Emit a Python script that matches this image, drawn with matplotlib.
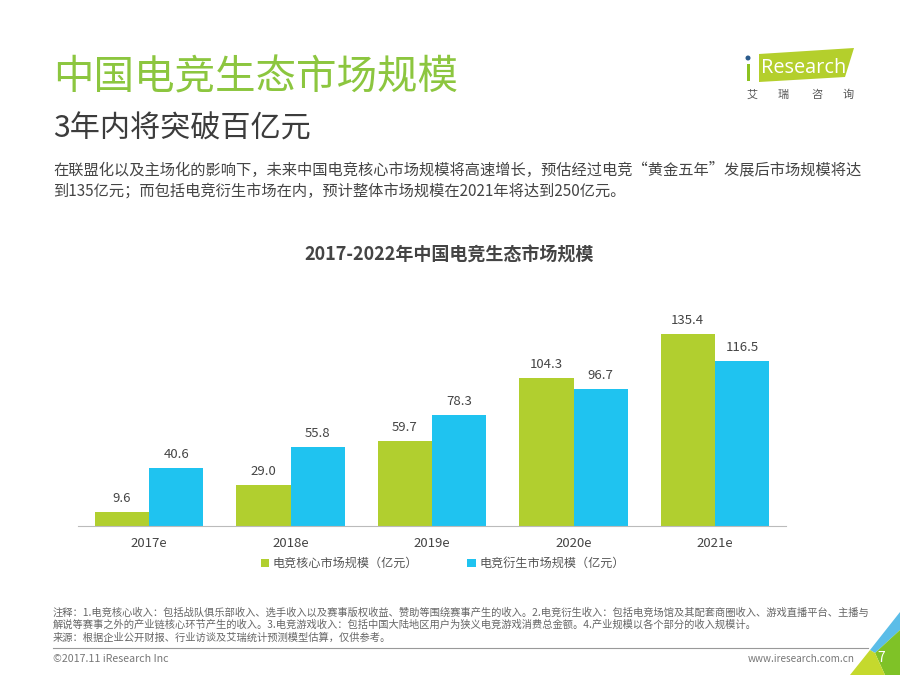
import numpy as np
import matplotlib
matplotlib.use('Agg')
import matplotlib.pyplot as plt
from matplotlib.patches import Polygon, Circle, Rectangle

plt.rcParams['font.family'] = ['Noto Sans CJK SC', 'DejaVu Sans']

years = ['2017e', '2018e', '2019e', '2020e', '2021e']
core = [9.6, 29.0, 59.7, 104.3, 135.4]
derived = [40.6, 55.8, 78.3, 96.7, 116.5]
core_name = '电竞核心市场规模（亿元）'
derived_name = '电竞衍生市场规模（亿元）'

title = '中国电竞生态市场规模'
subtitle = '3年内将突破百亿元'
intro = ['在联盟化以及主场化的影响下，未来中国电竞核心市场规模将高速增长，预估经过电竞“黄金五年”发展后市场规模将达',
         '到135亿元；而包括电竞衍生市场在内，预计整体市场规模在2021年将达到250亿元。']
chart_title = '2017-2022年中国电竞生态市场规模'
notes = ['注释：1.电竞核心收入：包括战队俱乐部收入、选手收入以及赛事版权收益、赞助等围绕赛事产生的收入。2.电竞衍生收入：包括电竞场馆及其配套商圈收入、游戏直播平台、主播与',
         '解说等赛事之外的产业链核心环节产生的收入。3.电竞游戏收入：包括中国大陆地区用户为狭义电竞游戏消费总金额。4.产业规模以各个部分的收入规模计。',
         '来源：根据企业公开财报、行业访谈及艾瑞统计预测模型估算，仅供参考。']

GREEN = '#b1cf2f'
BLUE = '#1fc3f0'
W, H = 900, 675

fig = plt.figure(figsize=(9, 6.75), dpi=100, facecolor='white')

# page overlay in pixel coordinates
page = fig.add_axes([0, 0, 1, 1])
page.set_xlim(0, W)
page.set_ylim(H, 0)
page.axis('off')

page.text(53, 78, title, fontsize=29.2, color='#8cc63f', va='center', ha='left')
page.text(53, 129, subtitle, fontsize=21.7, color='#3c3c3c', va='center', ha='left')
page.text(53, 170, intro[0], fontsize=10.98, color='#444444', va='center')
page.text(53, 191, intro[1], fontsize=10.98, color='#444444', va='center')
page.text(449, 255, chart_title, fontsize=13, color='#444444', weight='bold', ha='center', va='center')

# logo
page.add_patch(Polygon([[759, 54], [854, 48], [845, 77], [759, 82]], color='#b4cf2c', lw=0))
page.add_patch(Rectangle((746.5, 64), 3.5, 17, color='#8cc220', lw=0))
page.add_patch(Circle((748, 58), 2.5, color='#2b5b8c', lw=0))
page.text(761, 68, 'Research', fontsize=14.3, color='white', va='center', family='Open Sans')
for x, ch in zip([752, 783, 817, 848], '艾瑞咨询'):
    page.text(x, 95, ch, fontsize=8, color='#555555', ha='center', va='center')

# footnotes
for y, line in zip([613, 625, 638], notes):
    page.text(53, y, line, fontsize=7.4, color='#666666', va='center')
page.plot([53, 868], [648, 648], color='#999999', lw=0.8)
page.text(53, 659, '©2017.11 iResearch Inc', fontsize=7.7, color='#777777', va='center')
page.text(855, 659, 'www.iresearch.com.cn', fontsize=7.2, color='#777777', va='center', ha='right')

# corner decoration
page.add_patch(Polygon([[900, 612], [870, 650], [875, 653], [900, 630]], color='#5bbde8', lw=0))
page.add_patch(Polygon([[875, 653], [900, 630], [900, 675], [885, 675]], color='#7fc227', lw=0))
page.add_patch(Polygon([[850, 675], [870, 650], [875, 653], [885, 675]], color='#c5d92d', lw=0))
page.text(881, 658, '7', fontsize=10, color='white', ha='center', va='center')

# bar chart, axes placed so category spacing and baseline line up with the slide
ax = fig.add_axes([78.25 / W, 1 - 526 / H, (785.75 - 78.25) / W, 226 / H])
ax.patch.set_alpha(0)
x = np.arange(len(years))
w = 0.385
b1 = ax.bar(x - w / 2, core, w, color=GREEN, label=core_name)
b2 = ax.bar(x + w / 2, derived, w, color=BLUE, label=derived_name)
ax.bar_label(b1, fmt='%.1f', padding=5, fontsize=9.5, color='#444444')
ax.bar_label(b2, fmt='%.1f', padding=5, fontsize=9.5, color='#444444')

ax.set_xlim(-0.5, 4.5)
ax.set_ylim(0, 226 / 1.418)
ax.set_xticks(x, years)
ax.tick_params(axis='x', length=0, pad=8, labelsize=9.5, labelcolor='#444444')
ax.set_yticks([])
for s in ['top', 'left', 'right']:
    ax.spines[s].set_visible(False)
ax.spines['bottom'].set_color('#bbbbbb')

ax.legend(loc='upper center', bbox_to_anchor=(0.5155, -0.09), ncol=2, frameon=False,
          fontsize=8.7, labelcolor='#555555', handlelength=0.7, handleheight=0.7,
          columnspacing=4.05, handletextpad=0.33)

fig.savefig('out.png', dpi=100)
